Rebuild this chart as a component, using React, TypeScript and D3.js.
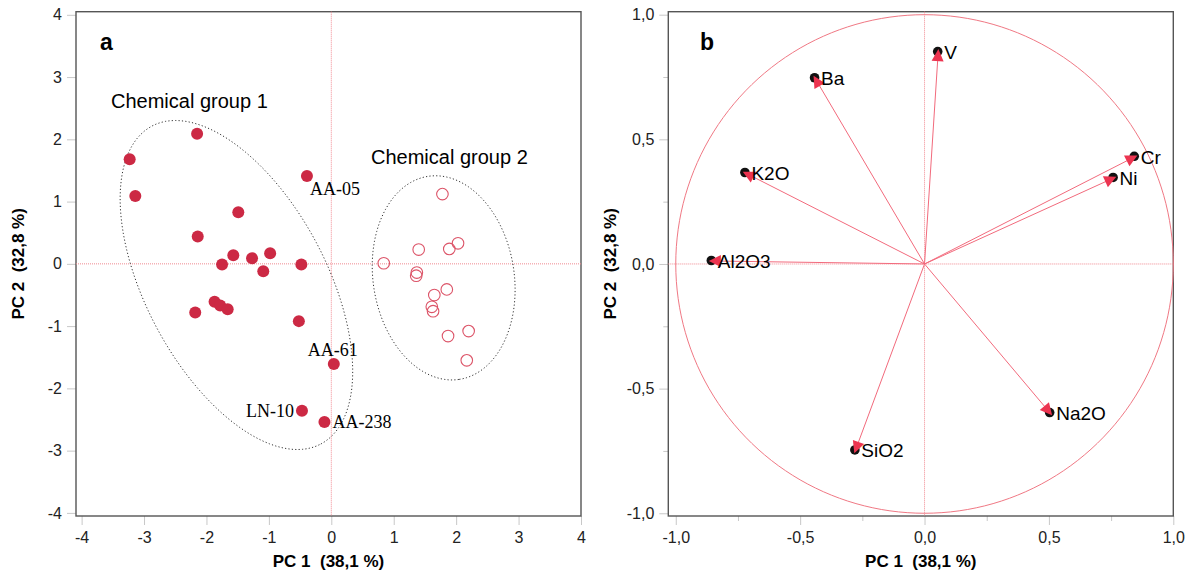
import React, { useEffect, useRef } from 'react';
import * as d3 from 'd3';

// panel a: sample scores on PC1 / PC2
const group1PC1 = [-3.23, -2.15, -3.14, -0.39, -1.49, -2.14, -1.57, -1.27, -0.98, -1.75, -1.09, -0.48, -1.87, -1.78, -1.66, -2.18, -0.52, 0.04, -0.47, -0.11];
const group1PC2 = [1.68, 2.09, 1.09, 1.41, 0.83, 0.44, 0.14, 0.09, 0.17, -0.01, -0.12, -0.01, -0.61, -0.67, -0.73, -0.78, -0.92, -1.61, -2.36, -2.54];
const group2PC1 = [1.78, 0.84, 1.4, 1.89, 2.03, 1.37, 1.36, 1.85, 1.65, 1.61, 1.63, 1.87, 2.2, 2.17];
const group2PC2 = [1.12, 0.01, 0.23, 0.24, 0.33, -0.14, -0.19, -0.41, -0.5, -0.69, -0.76, -1.16, -1.08, -1.55];

// labelled samples (index into group 1)
const sampleNames = ['AA-05', 'AA-61', 'LN-10', 'AA-238'];
const sampleIndex = [3, 17, 18, 19];

// confidence ellipses: centre, semi axes, angle (deg)
const groupNames = ['Chemical group 1', 'Chemical group 2'];
const ellipseCX = [-1.52, 1.8];
const ellipseCY = [-0.34, -0.225];
const ellipseA = [2.89, 1.65];
const ellipseB = [1.45, 1.13];
const ellipseAngle = [-62.1, -81.3];

// panel b: variable loadings
const varNames = ['V', 'Ba', 'K2O', 'Al2O3', 'Cr', 'Ni', 'Na2O', 'SiO2'];
const varPC1 = [0.055, -0.44, -0.72, -0.855, 0.845, 0.76, 0.505, -0.278];
const varPC2 = [0.85, 0.745, 0.365, 0.012, 0.43, 0.345, -0.598, -0.748];

const ticksA = [-4, -3, -2, -1, 0, 1, 2, 3, 4];
const ticksB = [-1, -0.5, 0, 0.5, 1];
const minorB = [-0.75, -0.25, 0.25, 0.75];

const xTitle = 'PC 1  (38,1 %)';
const yTitle = 'PC 2  (32,8 %)';

const SANS = 'Liberation Sans, Arial, Helvetica, sans-serif';
const SERIF = 'Liberation Serif, Times New Roman, serif';

const App = () => {
    const svgRef = useRef<SVGSVGElement>(null);

    useEffect(() => {
        const svg = d3.select(svgRef.current);
        svg.selectAll('*').remove();

        const xA = d3.scaleLinear().domain([-4.09, 4]).range([76, 581]);
        const yA = d3.scaleLinear().domain([4.05, -4.05]).range([11.7, 516]);
        const xB = d3.scaleLinear().domain([-1.03, 1]).range([668.3, 1173.3]);
        const yB = d3.scaleLinear().domain([1.012, -1.011]).range([11.7, 516]);

        const fmtB = (d: number) => d.toFixed(1).replace('.', ',');

        const drawAxes = (xs, ys, ticks, fmt, minor) => {
            const [x0, x1] = xs.range();
            const [y0, y1] = ys.range();

            const gx = svg.append('g')
                .attr('transform', `translate(0,${y1})`)
                .call(d3.axisBottom(xs).tickValues(ticks).tickFormat(fmt).tickSize(9).tickPadding(7));
            const gy = svg.append('g')
                .attr('transform', `translate(${x0},0)`)
                .call(d3.axisLeft(ys).tickValues(ticks).tickFormat(fmt).tickSize(9).tickPadding(5));

            if (minor) {
                svg.append('g')
                    .attr('transform', `translate(0,${y1})`)
                    .call(d3.axisBottom(xs).tickValues(minor).tickFormat(() => '').tickSize(5));
                svg.append('g')
                    .attr('transform', `translate(${x0},0)`)
                    .call(d3.axisLeft(ys).tickValues(minor).tickFormat(() => '').tickSize(5));
            }

            svg.selectAll('.domain').remove();
            svg.selectAll('.tick line').attr('stroke', '#c8c8c8');
            [gx, gy].forEach((g) => g.selectAll('text')
                .attr('fill', '#222')
                .style('font-family', SANS)
                .style('font-size', '16px'));

            // frame
            svg.append('rect')
                .attr('x', x0).attr('y', y0)
                .attr('width', x1 - x0).attr('height', y1 - y0)
                .attr('fill', 'none')
                .attr('stroke', '#555')
                .attr('stroke-width', 1.4);

            // zero lines
            svg.append('line')
                .attr('x1', xs(0)).attr('x2', xs(0)).attr('y1', y0).attr('y2', y1)
                .attr('stroke', '#f08890').attr('stroke-dasharray', '1,1');
            svg.append('line')
                .attr('x1', x0).attr('x2', x1).attr('y1', ys(0)).attr('y2', ys(0))
                .attr('stroke', '#f08890').attr('stroke-dasharray', '1,1');

            // titles
            svg.append('text')
                .attr('x', (x0 + x1) / 2).attr('y', 567)
                .attr('text-anchor', 'middle')
                .style('font-family', SANS).style('font-size', '17px').style('font-weight', 'bold')
                .style('white-space', 'pre')
                .text(xTitle);
            svg.append('text')
                .attr('transform', `translate(${x0 - 52},${(y0 + y1) / 2}) rotate(-90)`)
                .attr('text-anchor', 'middle')
                .style('font-family', SANS).style('font-size', '17px').style('font-weight', 'bold')
                .style('white-space', 'pre')
                .text(yTitle);
        };

        drawAxes(xA, yA, ticksA, (d: number) => String(d), null);
        drawAxes(xB, yB, ticksB, fmtB, minorB);

        // panel letters
        svg.append('text').attr('x', 100).attr('y', 50)
            .style('font-family', SANS).style('font-size', '23px').style('font-weight', 'bold').text('a');
        svg.append('text').attr('x', 700).attr('y', 50)
            .style('font-family', SANS).style('font-size', '23px').style('font-weight', 'bold').text('b');

        // ---- panel a ----
        const ellipseLine = d3.line<number[]>().x((d) => xA(d[0])).y((d) => yA(d[1]));
        groupNames.forEach((name, i) => {
            const th = ellipseAngle[i] * Math.PI / 180;
            const pts = d3.range(0, 361, 3).map((deg) => {
                const t = deg * Math.PI / 180;
                const u = ellipseA[i] * Math.cos(t), v = ellipseB[i] * Math.sin(t);
                return [ellipseCX[i] + u * Math.cos(th) - v * Math.sin(th),
                        ellipseCY[i] + u * Math.sin(th) + v * Math.cos(th)];
            });
            svg.append('path')
                .attr('d', ellipseLine(pts))
                .attr('fill', 'none')
                .attr('stroke', '#333')
                .attr('stroke-width', 1)
                .attr('stroke-dasharray', '1.2,2.2');
        });

        svg.append('text').attr('x', 111).attr('y', 108)
            .style('font-family', SANS).style('font-size', '20px').text(groupNames[0]);
        svg.append('text').attr('x', 371).attr('y', 164)
            .style('font-family', SANS).style('font-size', '20px').text(groupNames[1]);

        svg.append('g').selectAll('circle')
            .data(group2PC1)
            .enter()
            .append('circle')
            .attr('cx', (d) => xA(d))
            .attr('cy', (d, i) => yA(group2PC2[i]))
            .attr('r', 5.8)
            .attr('fill', 'none')
            .attr('stroke', '#dc5468')
            .attr('stroke-width', 1.1);

        svg.append('g').selectAll('circle')
            .data(group1PC1)
            .enter()
            .append('circle')
            .attr('cx', (d) => xA(d))
            .attr('cy', (d, i) => yA(group1PC2[i]))
            .attr('r', 6)
            .attr('fill', '#cc2944');

        // label placement: dx, dy, anchor
        const labelPlace = [[3, 19, 'start'], [-1, -8, 'middle'], [-8, 6, 'end'], [8, 6, 'start']];
        sampleNames.forEach((name, i) => {
            const k = sampleIndex[i];
            const [dx, dy, anchor] = labelPlace[i];
            svg.append('text')
                .attr('x', xA(group1PC1[k]) + (dx as number))
                .attr('y', yA(group1PC2[k]) + (dy as number))
                .attr('text-anchor', anchor as string)
                .style('font-family', SERIF).style('font-size', '18px')
                .text(name);
        });

        // ---- panel b ----
        const circlePts = d3.range(0, 361, 2).map((deg) => [Math.cos(deg * Math.PI / 180), Math.sin(deg * Math.PI / 180)]);
        svg.append('path')
            .attr('d', d3.line<number[]>().x((d) => xB(d[0])).y((d) => yB(d[1]))(circlePts))
            .attr('fill', 'none')
            .attr('stroke', '#f07884')
            .attr('stroke-width', 1);

        const gB = svg.append('g');
        varNames.forEach((name, i) => {
            const x = xB(varPC1[i]), y = yB(varPC2[i]);
            gB.append('line')
                .attr('x1', xB(0)).attr('y1', yB(0)).attr('x2', x).attr('y2', y)
                .attr('stroke', '#f26a7c').attr('stroke-width', 1);
        });
        varNames.forEach((name, i) => {
            const x = xB(varPC1[i]), y = yB(varPC2[i]);
            const ang = Math.atan2(y - yB(0), x - xB(0));
            const ca = Math.cos(ang), sa = Math.sin(ang);
            gB.append('circle').attr('cx', x - 0.5).attr('cy', y - 0.5).attr('r', 4.8).attr('fill', '#111');
            const tip = 3, back = 9, hw = 6;
            const bx = x - back * ca, by = y - back * sa;
            gB.append('path')
                .attr('d', `M${x + tip * ca},${y + tip * sa}L${bx - sa * hw},${by + ca * hw}L${bx + sa * hw},${by - ca * hw}Z`)
                .attr('fill', '#ec3450');
            gB.append('text')
                .attr('x', x + 6).attr('y', y + 7)
                .style('font-family', SANS).style('font-size', '19px')
                .text(name);
        });
    }, []);

    return (
        <svg ref={svgRef} width={1192} height={577} style={{ position: 'absolute', left: 0, top: 0, background: '#fff' }}></svg>
    );
};

export default App;
